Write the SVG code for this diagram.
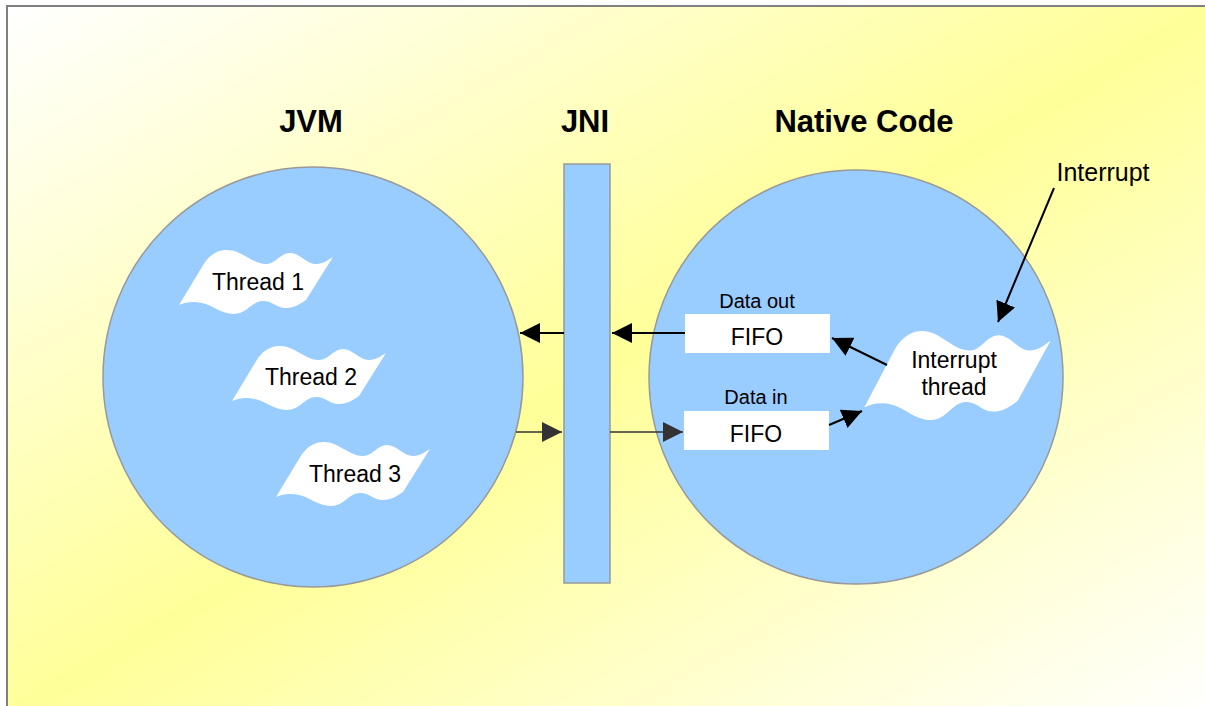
<svg xmlns="http://www.w3.org/2000/svg" width="1205" height="706" viewBox="0 0 1205 706">
<defs>
  <linearGradient id="bg" x1="0" y1="0" x2="1" y2="1">
    <stop offset="0" stop-color="#FFFFFF"/>
    <stop offset="0.5" stop-color="#FFFF99"/>
    <stop offset="1" stop-color="#FFFFFF"/>
  </linearGradient>
  <marker id="ahBlack" markerUnits="userSpaceOnUse" markerWidth="20" markerHeight="20" refX="20" refY="10" orient="auto">
    <path d="M0,0 L20,10 L0,20 Z" fill="#000"/>
  </marker>
  <marker id="ahGray" markerUnits="userSpaceOnUse" markerWidth="20" markerHeight="20" refX="20" refY="10" orient="auto">
    <path d="M0,0 L20,10 L0,20 Z" fill="#333"/>
  </marker>
  <path id="wave" d="M27,12 C34,3 41,0 49,0 C64,0 74,14 88,14 C98,14 102,3 112,3 C122,3 128,14 138,14 C145,14 150,10 155,7 L128,50 C121,55 115,58 108,58 C98,58 95,51 85,51 C74,51 69,64 56,64 C43,64 34,55 24,53 C15,51 8,52 1,55 Z"/>
</defs>
<style>
  .circle{fill:#99CCFF;stroke:#999999;stroke-width:1.5}
  .title{font-family:"Liberation Sans",Arial,sans-serif;font-weight:bold;font-size:31px;fill:#000;text-anchor:middle}
  .lbl{font-family:"Liberation Sans",Arial,sans-serif;font-size:23px;fill:#000;text-anchor:middle}
  .small{font-family:"Liberation Sans",Arial,sans-serif;font-size:20px;fill:#000;text-anchor:middle}
  .thread{fill:#FFFFFF}
  .fifo{fill:#FFFFFF}
  .cb{stroke:#000;stroke-width:2;fill:none;marker-end:url(#ahBlack)}
  .cg{stroke:#333;stroke-width:1.5;fill:none;marker-end:url(#ahGray)}
</style>
<rect x="0" y="0" width="1205" height="706" fill="#FFFFFF"/>
<rect x="7" y="6" width="1210" height="712" fill="url(#bg)" stroke="#808080" stroke-width="2"/>

<g id="jvm">
  <circle class="circle" cx="313" cy="377" r="210"/>
  <text class="title" x="311" y="132">JVM</text>
</g>
<g id="jni">
  <rect x="564" y="164" width="46" height="419" fill="#99CCFF" stroke="#999999" stroke-width="1.5"/>
  <text class="title" x="585" y="132">JNI</text>
</g>
<g id="native">
  <circle class="circle" cx="856" cy="377" r="207"/>
  <text class="title" x="864" y="132">Native Code</text>
</g>

<g id="thread1">
  <use href="#wave" class="thread" transform="translate(178,250)"/>
  <text class="lbl" x="258" y="290">Thread 1</text>
</g>
<g id="thread2">
  <use href="#wave" class="thread" transform="translate(231,346)"/>
  <text class="lbl" x="311" y="385">Thread 2</text>
</g>
<g id="thread3">
  <use href="#wave" class="thread" transform="translate(275,442)"/>
  <text class="lbl" x="355" y="482">Thread 3</text>
</g>

<g id="fifo-out">
  <rect class="fifo" x="685" y="314" width="145" height="39"/>
  <text class="lbl" x="757" y="345">FIFO</text>
  <text class="small" x="757" y="308">Data out</text>
</g>
<g id="fifo-in">
  <rect class="fifo" x="684" y="411" width="145" height="39"/>
  <text class="lbl" x="756" y="442">FIFO</text>
  <text class="small" x="756" y="404">Data in</text>
</g>

<g id="interrupt-thread">
  <use href="#wave" class="thread" transform="translate(863,331) scale(1.21,1.39)"/>
  <text class="lbl" x="954" y="368">Interrupt</text>
  <text class="lbl" x="954" y="395">thread</text>
</g>

<g id="interrupt-label">
  <text x="1103" y="181" font-family="Liberation Sans, Arial, sans-serif" font-size="25" text-anchor="middle">Interrupt</text>
</g>

<g id="connectors">
  <line class="cb" x1="564" y1="333" x2="520" y2="333"/>
  <line class="cb" x1="685" y1="333" x2="612" y2="333"/>
  <line class="cg" x1="516" y1="432" x2="562" y2="432"/>
  <line class="cg" x1="610" y1="432" x2="683" y2="432"/>
  <line class="cb" x1="887" y1="365" x2="832" y2="338"/>
  <line class="cb" x1="829" y1="425" x2="862" y2="411"/>
  <line class="cb" x1="1054" y1="188" x2="998" y2="322"/>
</g>
</svg>
